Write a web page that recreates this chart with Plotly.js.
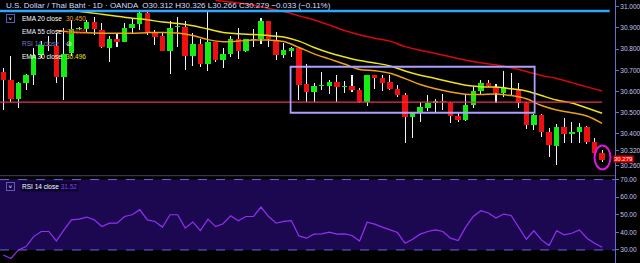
<!DOCTYPE html>
<html><head><meta charset="utf-8">
<script src="https://cdn.plot.ly/plotly-3.0.1.min.js"></script>
<style>html,body{margin:0;padding:0;background:#000;} #chart{width:640px;height:263px;}</style>
</head><body><div id="chart"></div>
<script>
// ---- OHLC (daily candles) ----
const open  = [30.694,30.655,30.564,30.639,30.676,30.773,30.820,30.817,30.668,30.780,
               30.894,30.895,30.927,30.890,30.807,30.848,30.835,30.900,30.919,30.969,
               30.883,30.860,30.792,30.904,30.903,30.770,30.825,30.730,30.835,30.750,
               30.777,30.848,30.793,30.845,30.847,30.933,30.843,30.773,30.790,30.807,
               30.636,30.597,30.626,30.628,30.647,30.623,30.626,30.607,30.550,30.678,
               30.666,30.644,30.613,30.584,30.479,30.497,30.524,30.545,30.554,30.548,
               30.485,30.466,30.537,30.603,30.642,30.623,30.595,30.619,30.612,30.545,
               30.443,30.490,30.411,30.345,30.432,30.400,30.411,30.432,30.364,30.312];
const high  = [30.711,30.768,30.645,30.682,30.806,30.840,30.860,30.876,30.900,30.938,
               30.905,30.940,30.952,30.923,30.860,30.872,30.924,30.947,30.977,30.980,
               30.890,30.876,30.934,30.950,30.935,30.875,30.850,30.980,30.836,30.804,
               30.862,30.898,30.850,30.894,30.946,30.935,30.880,30.830,30.810,30.810,
               30.730,30.642,30.690,30.655,30.678,30.652,30.678,30.616,30.680,30.680,
               30.678,30.678,30.632,30.592,30.505,30.552,30.584,30.564,30.589,30.550,
               30.505,30.584,30.623,30.655,30.655,30.636,30.697,30.686,30.639,30.553,
               30.495,30.495,30.427,30.447,30.474,30.458,30.450,30.438,30.383,30.326];
const low   = [30.513,30.553,30.523,30.607,30.631,30.760,30.790,30.640,30.560,30.770,
               30.890,30.875,30.867,30.804,30.740,30.812,30.834,30.876,30.890,30.867,
               30.820,30.790,30.683,30.810,30.700,30.720,30.718,30.695,30.740,30.710,
               30.762,30.754,30.788,30.812,30.824,30.812,30.750,30.760,30.765,30.560,
               30.553,30.553,30.605,30.590,30.550,30.592,30.600,30.545,30.534,30.612,
               30.603,30.608,30.576,30.359,30.380,30.455,30.510,30.505,30.513,30.450,
               30.458,30.461,30.521,30.584,30.623,30.545,30.576,30.584,30.521,30.422,
               30.419,30.387,30.293,30.254,30.359,30.359,30.359,30.353,30.304,30.266];
const close = [30.655,30.563,30.639,30.678,30.773,30.820,30.815,30.668,30.776,30.894,
               30.899,30.930,30.894,30.809,30.848,30.835,30.900,30.919,30.969,30.878,
               30.856,30.793,30.900,30.907,30.770,30.825,30.730,30.834,30.750,30.777,
               30.848,30.793,30.847,30.848,30.933,30.847,30.773,30.796,30.807,30.630,
               30.600,30.626,30.629,30.647,30.623,30.626,30.607,30.550,30.678,30.666,
               30.642,30.613,30.584,30.479,30.497,30.526,30.545,30.556,30.550,30.486,
               30.466,30.537,30.603,30.642,30.628,30.595,30.619,30.611,30.545,30.443,
               30.490,30.411,30.348,30.432,30.400,30.409,30.432,30.364,30.309,30.279];

// ---- RSI 14 ----
const rsi = [27.1,25.2,30.0,31.9,37.6,40.5,40.5,35.1,41.4,47.1,
             47.5,48.7,47.1,43.3,45.2,45.2,49.0,50.0,52.9,47.1,
             46.2,43.0,50.0,50.0,42.4,45.8,41.0,47.5,43.3,44.9,
             49.4,46.6,49.0,49.0,54.4,49.0,45.2,46.2,46.7,38.0,
             36.7,39.0,39.1,40.1,39.0,39.1,38.2,35.1,45.8,44.7,
             43.0,41.4,39.9,33.8,36.1,39.0,40.5,41.4,40.5,36.7,
             35.3,43.0,49.0,52.3,51.0,48.1,50.4,49.6,43.0,36.1,
             40.9,35.7,32.5,40.9,38.6,39.5,41.4,36.7,33.8,31.52];

// ---- EMA lines (candle index / value) ----
const emaIdx30 = [9,11,13,15,17,19,21,23,25,27,29,31,33,35,37,39,41,43,45,47,49,51,53,55,57,59,61,63,65,67,69,71,73,75,77,79];
const ema30    = [30.985,30.974,30.965,30.955,30.946,30.939,30.928,30.921,30.911,30.895,30.879,30.873,30.869,30.864,30.857,30.838,30.808,30.783,30.763,30.746,30.735,30.721,30.697,30.677,30.662,30.645,30.630,30.623,30.621,30.613,30.603,30.581,30.560,30.546,30.522,30.498];
const emaIdx20 = [7,9,11,13,15,17,19,21,23,25,27,29,31,33,35,37,39,41,43,45,47,49,51,53,55,57,59,61,63,65,67,69,71,73,75,77,79];
const ema20    = [30.888,30.881,30.877,30.875,30.875,30.875,30.878,30.879,30.876,30.864,30.845,30.835,30.838,30.843,30.843,30.836,30.808,30.778,30.754,30.730,30.704,30.698,30.686,30.661,30.633,30.613,30.598,30.587,30.586,30.588,30.581,30.566,30.534,30.513,30.500,30.485,30.450];
const emaIdx55 = [28,31,33,35,37,39,41,43,45,47,49,51,53,55,57,59,61,63,65,67,69,71,73,75,77,79];
const ema55    = [31.030,31.018,31.008,30.992,30.978,30.957,30.938,30.914,30.888,30.868,30.852,30.838,30.812,30.795,30.780,30.764,30.748,30.736,30.726,30.712,30.695,30.676,30.662,30.642,30.622,30.603];

// ---- drawn levels / tick labels ----
const blueLevel = 30.98;
const pinkLevel = 30.55;
const boxRange = {x0: 37.9, x1: 70.1, y0: 30.50, y1: 30.717};
const circleRange = {x0: 78.0, x1: 80.1, y0: 30.233, y1: 30.345};
const priceTickVals = [31.0,30.9,30.8,30.7,30.6,30.5,30.4,30.32,30.25];
const priceTickText = ['31.000','30.900','30.800','30.700','30.600','30.500','30.400','30.320','30.260'];
const rsiTickVals = [70,60,50,40,30];
const rsiTickText = ['70.00','60.00','50.00','40.00','30.00'];
const lastPrice = 30.279;

const dayIndex = open.map((_, i) => i);
const GREEN = '#12ee12', RED = '#ee1010';
const bodyBase = open.map((o, i) => Math.min(o, close[i]));
const bodySize = open.map((o, i) => Math.max(Math.abs(close[i] - o), 0.004));
const bodyColor = open.map((o, i) => close[i] >= o ? GREEN : RED);
const wickSize = high.map((h, i) => h - low[i]);

const traces = [
  {type:'bar', x:dayIndex, base:low, y:wickSize, width:0.14, marker:{color:'#f4f4ff', line:{width:0}}, hoverinfo:'skip', xaxis:'x', yaxis:'y'},
  {type:'bar', x:dayIndex, base:bodyBase, y:bodySize, width:0.72, marker:{color:bodyColor, line:{width:0}}, hoverinfo:'skip', xaxis:'x', yaxis:'y'},
  {type:'scatter', mode:'lines', x:emaIdx55, y:ema55, line:{color:'#d80808', width:1.5, shape:'spline'}, hoverinfo:'skip', xaxis:'x', yaxis:'y'},
  {type:'scatter', mode:'lines', x:emaIdx30, y:ema30, line:{color:'#ece41a', width:1.5, shape:'spline'}, hoverinfo:'skip', xaxis:'x', yaxis:'y'},
  {type:'scatter', mode:'lines', x:emaIdx20, y:ema20, line:{color:'#efa015', width:1.5, shape:'spline'}, hoverinfo:'skip', xaxis:'x', yaxis:'y'},
  {type:'scatter', mode:'lines', x:dayIndex, y:rsi, line:{color:'#9430f5', width:1.2}, hoverinfo:'skip', xaxis:'x2', yaxis:'y2'}
];

const W = 615, H = 263;
const px = v => v / W, py = v => 1 - v / H;
const axisFont = {family:'Liberation Sans, Arial, sans-serif', size:6.5, color:'#c4c4f4'};
const lf = (s, c) => ({family:'Liberation Sans, Arial, sans-serif', size:s, color:c});

function txt(x, y, text, font, extra) {
  return Object.assign({xref:'paper', yref:'paper', x:px(x), y:py(y), xanchor:'left', yanchor:'middle', text:text, showarrow:false, font:font}, extra || {});
}

const annotations = [
  txt(4, 5, 'U.S. Dollar / Thai Baht · 1D · OANDA  <span style="color:#e0e0ff">O</span>30.312 <span style="color:#e0e0ff">H</span>30.326 <span style="color:#e0e0ff">L</span>30.266 <span style="color:#e0e0ff">C</span>30.279 −0.033 (−0.11%)', lf(8, '#d8d8ff')),
  txt(6, 19, '˅', lf(6, '#ffffff'), {bordercolor:'#5a5ab0', borderwidth:1, width:7, height:7, borderpad:0, align:'center'}),
  txt(20, 19, 'EMA 20 close', lf(6.5, '#ffffff')),
  txt(64, 19, '30.450', lf(6.5, '#f0a020')),
  txt(20, 31.5, 'EMA 55 close', lf(6.5, '#f0f0ff')),
  txt(64, 31.5, '30.605', lf(6.5, '#d82020')),
  txt(20, 43.5, 'RSI 14 close', lf(6.5, '#7c7cc0')),
  txt(64, 43.5, '⊘', lf(6.5, '#ffffff')),
  txt(20, 56, 'EMA 30 close', lf(6.5, '#ffffff')),
  txt(64, 56, '30.496', lf(6.5, '#ece41a')),
  txt(6, 186.5, '˅', lf(6, '#ffffff'), {bordercolor:'#5a5ab0', borderwidth:1, width:7, height:7, borderpad:0, align:'center'}),
  txt(20, 186.5, 'RSI 14 close <span style="color:#8a3ff0">31.52</span>', lf(6.5, '#ffffff'), {bgcolor:'#0c0530'}),
  {xref:'paper', yref:'y', x:1, y:lastPrice, xanchor:'left', yanchor:'middle', xshift:-2, yshift:1, text:'30.279', showarrow:false,
   font:{family:'Liberation Sans, Arial, sans-serif', size:6, color:'#ffffff'}, bgcolor:'#e80000', borderpad:0}
];

const shapes = [
  {type:'rect', xref:'paper', yref:'y2', x0:0, x1:1, y0:30, y1:70, fillcolor:'#1c0850', line:{width:0}, layer:'below'},
  {type:'line', xref:'paper', yref:'y2', x0:0, x1:1, y0:70, y1:70, line:{color:'#7060dc', width:1, dash:'dash'}},
  {type:'line', xref:'paper', yref:'y2', x0:0, x1:1, y0:30, y1:30, line:{color:'#7060dc', width:1, dash:'dash'}},
  {type:'line', xref:'paper', yref:'paper', x0:0, x1:1, y0:py(175.7), y1:py(175.7), line:{color:'#45455a', width:1}},
  {type:'line', xref:'x', yref:'y', x0:-0.44, x1:80.0, y0:blueLevel, y1:blueLevel, line:{color:'#2ea6ff', width:2.5}},
  {type:'line', xref:'x', yref:'y', x0:-0.44, x1:79.0, y0:pinkLevel, y1:pinkLevel, line:{color:'#e8305c', width:1.4}},
  {type:'rect', xref:'x', yref:'y', x0:boxRange.x0, x1:boxRange.x1, y0:boxRange.y0, y1:boxRange.y1, line:{color:'#ad9eff', width:1.8}},
  {type:'circle', xref:'x', yref:'y', x0:circleRange.x0, x1:circleRange.x1, y0:circleRange.y0, y1:circleRange.y1, line:{color:'#e414e4', width:2}}
];

const yCommon = {side:'right', showgrid:false, zeroline:false, showline:true, linecolor:'#6c6cc8', linewidth:1,
  ticks:'outside', ticklen:3, tickcolor:'#6c6cc8', tickfont:axisFont, fixedrange:true};

const layout = {
  width:640, height:263, margin:{l:0, r:25, t:0, b:0, pad:0},
  paper_bgcolor:'#000000', plot_bgcolor:'#000000', showlegend:false,
  barmode:'overlay', bargap:0,
  xaxis:{range:[-0.435, 80.7], visible:false, fixedrange:true},
  xaxis2:{range:[-0.435, 80.7], visible:false, anchor:'y2', fixedrange:true},
  yaxis:Object.assign({}, yCommon, {domain:[0.332, 1], range:[30.203, 31.032], tickvals:priceTickVals, ticktext:priceTickText, anchor:'x'}),
  yaxis2:Object.assign({}, yCommon, {domain:[0, 0.332], range:[22.6, 72.2], tickvals:rsiTickVals, ticktext:rsiTickText, anchor:'x2'}),
  annotations:annotations, shapes:shapes
};

Plotly.newPlot('chart', traces, layout, {displayModeBar:false, staticPlot:true});
</script></body></html>
